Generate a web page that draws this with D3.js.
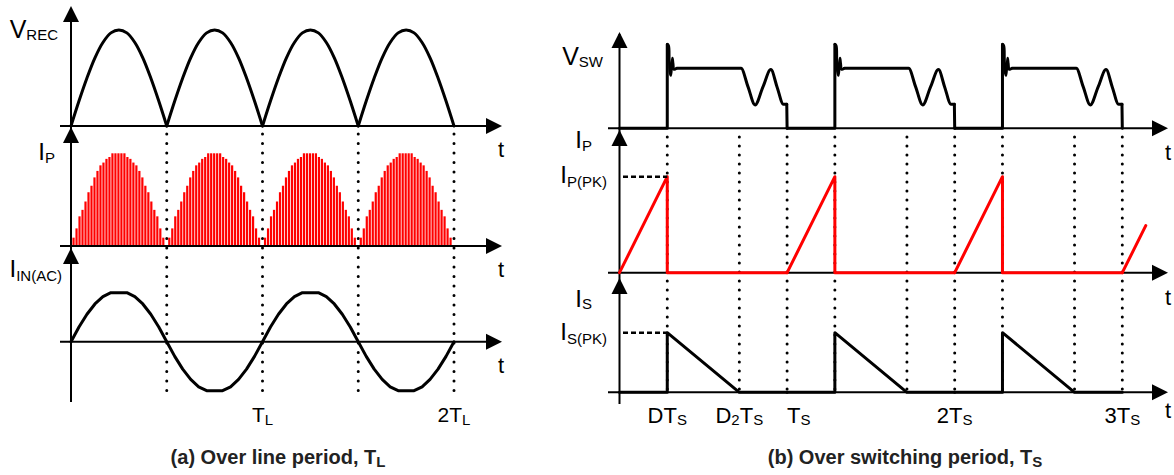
<!DOCTYPE html>
<html>
<head>
<meta charset="utf-8">
<script src="https://cdn.jsdelivr.net/npm/d3@7"></script>
<style>
  body { margin: 0; background: #fff; }
  svg { display: block; font-family: "Liberation Sans", Arial, sans-serif; }
</style>
</head>
<body>
<svg id="chart" width="1174" height="475"></svg>
<script>
// ---------- data: (a) over line period, t in units of T_L ----------
const lineZeros = [0, 0.5, 1, 1.5];                 // start of each rectified half cycle
const vrecArch = [0, 0.26, 0.5, 0.71, 0.87, 0.97, 1, 0.97, 0.87, 0.71, 0.5, 0.26, 0];
const ipBars = [0.09, 0.19, 0.32, 0.39, 0.48, 0.58, 0.65, 0.74, 0.81, 0.87, 0.90, 0.94, 0.96,
                1, 1, 1, 1, 1,
                0.96, 0.94, 0.90, 0.87, 0.81, 0.74, 0.65, 0.58, 0.48, 0.39, 0.32, 0.19, 0.09];
const iinCycle = [0, 0.3, 0.56, 0.77, 0.92, 1, 1, 1, 0.92, 0.77, 0.56, 0.3,
                  0, -0.3, -0.56, -0.77, -0.92, -1, -1, -1, -0.92, -0.77, -0.56, -0.3, 0];
const lineCycles = [0, 1];
const lineMarks = [0.5, 1, 1.5, 2];                 // dotted guides
const lineTickTimes = [1, 2];
const lineTickLabels = [[["T", 0], ["L", 1]], [["2T", 0], ["L", 1]]];

// ---------- data: (b) over switching period, t in units of T_S ----------
const D = 0.285, D2 = 0.43;
const switchPeriods = [0, 1, 2];
const vswTime  = [0, 0.285, 0.285, 0.293, 0.297, 0.300, 0.306, 0.312, 0.316, 0.320, 0.326, 0.341,
                  0.725, 0.767, 0.809, 0.856, 0.903, 0.940, 0.978, 0.998, 1.0];
const vswLevel = [0, 0, 1.40, 1.38, 1.15, 0.95, 0.88, 1.05, 1.17, 1.08, 0.98, 1.0,
                  1.0, 0.69, 0.39, 0.69, 0.98, 0.69, 0.40, 0.40, 0];
const ipTime  = [0, 0.285, 0.285, 1];
const ipLevel = [0, 1, 0, 0];
const ipTailTime = [3, 3.14], ipTailLevel = [0, 0.49];
const isTime  = [0, 0.285, 0.285, 0.715, 1];
const isLevel = [0, 0, 1, 0, 0];
const switchMarks = [0.285, 0.715, 1, 1.285, 1.715, 2, 2.285, 2.715, 3];
const switchTickTimes = [0.285, 0.715, 1, 2, 3];
const switchTickLabels = [
  [["DT", 0], ["S", 1]],
  [["D", 0], ["2", 1], ["T", 0], ["S", 1]],
  [["T", 0], ["S", 1]],
  [["2T", 0], ["S", 1]],
  [["3T", 0], ["S", 1]]
];

// ---------- scales ----------
const svg = d3.select("#chart");
const RED = "#ff0000";

const xL = d3.scaleLinear().domain([0, 2]).range([71, 454]);
const yVrec = d3.scaleLinear().domain([0, 1]).range([126, 30]);
const yIpL = d3.scaleLinear().domain([0, 1]).range([246, 153.3]);
const yIin = d3.scaleLinear().domain([-1, 1]).range([390.7, 292.7]);

const xR = d3.scaleLinear().domain([0, 3]).range([619.5, 1122.3]);
const yVsw = d3.scaleLinear().domain([0, 1]).range([128.3, 68.3]);
const yIpR = d3.scaleLinear().domain([0, 1]).range([272.7, 176.7]);
const yIs = d3.scaleLinear().domain([0, 1]).range([392.3, 332.7]);

// ---------- helpers ----------
function arrow(x, y, dir) {
  const len = 16, hw = 8;
  const p = dir === "up"
    ? [[x, y], [x - hw, y + len], [x + hw, y + len]]
    : [[x, y], [x - len, y - hw], [x - len, y + hw]];
  svg.append("path").attr("d", "M" + p.join("L") + "Z").attr("fill", "#000");
}

function hline(x1, x2, y, w) {
  svg.append("line").attr("x1", x1).attr("x2", x2).attr("y1", y).attr("y2", y)
    .attr("stroke", "#000").attr("stroke-width", w || 2);
}

function vline(x, y1, y2, w) {
  svg.append("line").attr("x1", x).attr("x2", x).attr("y1", y1).attr("y2", y2)
    .attr("stroke", "#000").attr("stroke-width", w || 2);
}

function dotted(x, y1, y2, gap) {
  svg.append("line").attr("x1", x).attr("x2", x).attr("y1", y1).attr("y2", y2)
    .attr("stroke", "#000").attr("stroke-width", 3)
    .attr("stroke-linecap", "round").attr("stroke-dasharray", "0 " + gap);
}

// parts: [[text, isSub], ...]
function rich(x, y, parts, o) {
  const t = svg.append("text").attr("x", x).attr("y", y)
    .attr("text-anchor", o.anchor || "start")
    .attr("font-weight", o.weight || "normal")
    .attr("fill", o.fill || "#000");
  let off = 0;
  parts.forEach(([s, sub]) => {
    const want = sub ? o.subDy : 0;
    t.append("tspan").attr("font-size", sub ? o.sub : o.size)
      .attr("dy", want - off).text(s);
    off = want;
  });
  return t;
}

function wave(pts, sx, sy, curve, color, w) {
  const line = d3.line().x(d => sx(d[0])).y(d => sy(d[1])).curve(curve || d3.curveLinear);
  svg.append("path").attr("d", line(pts)).attr("fill", "none")
    .attr("stroke", color || "#000").attr("stroke-width", w || 3)
    .attr("stroke-linejoin", "round").attr("stroke-linecap", "round");
}

// ================= (a) over line period =================
lineMarks.forEach(t => dotted(xL(t), 134, 395, 9.5));

// I_P bars
lineZeros.forEach(z => {
  svg.append("g").selectAll("rect").data(ipBars).join("rect")
    .attr("x", (v, j) => xL(z + 0.5 * (j + 0.85) / 32) - 1.1)
    .attr("width", 2.2)
    .attr("y", v => yIpL(v))
    .attr("height", v => yIpL(0) - yIpL(v))
    .attr("fill", RED);
});

// axes
vline(71, 8, 402);
[yVrec(0), yIpL(0), yIin(0)].forEach(y => { hline(60, 490, y); arrow(502, y, "right"); });
[6, 127, 248].forEach(y => arrow(71, y, "up"));

// V_REC arches
lineZeros.forEach(z => {
  const pts = vrecArch.map((v, i) => [z + 0.5 * i / (vrecArch.length - 1), v]);
  wave(pts, xL, yVrec, d3.curveCatmullRom);
});

// I_IN(AC)
const iinPts = [];
lineCycles.forEach(c => iinCycle.forEach((v, i) => {
  if (c > 0 && i === 0) return;
  iinPts.push([c + i / (iinCycle.length - 1), v]);
}));
wave(iinPts, xL, yIin, d3.curveLinear, "#000", 3);

// labels
rich(58, 38, [["V", 0], ["REC", 1]], { size: 25, sub: 15, subDy: 2, anchor: "end" });
rich(55, 160, [["I", 0], ["P", 1]], { size: 24, sub: 15, subDy: 3, anchor: "end" });
rich(62, 277, [["I", 0], ["IN(AC)", 1]], { size: 24, sub: 15, subDy: 4, anchor: "end" });
[157, 277, 373].forEach(y => svg.append("text").attr("x", 498).attr("y", y)
  .attr("font-size", 22).text("t"));
lineTickTimes.forEach((t, i) =>
  rich(xL(t), 422, lineTickLabels[i], { size: 21, sub: 15, subDy: 3, anchor: "middle" }));
rich(278, 464, [["(a) Over line period, T", 0], ["L", 1]],
  { size: 20, sub: 15, subDy: 3, anchor: "middle", weight: "bold", fill: "#222" });

// ================= (b) over switching period =================
switchMarks.forEach(t => dotted(xR(t), 137, 390, 9));

// axes
vline(619.5, 34, 404);
[yVsw(0), yIpR(0), yIs(0)].forEach(y => { hline(608, 1156, y); arrow(1168, y, "right"); });
[32, 130, 278].forEach(y => arrow(619.5, y, "up"));

// V_SW
switchPeriods.forEach(k => {
  const pts = vswTime.map((t, i) => [k + t, vswLevel[i]]);
  wave(pts.slice(0, 3), xR, yVsw, d3.curveLinear);
  wave(pts.slice(2, 12), xR, yVsw, d3.curveCatmullRom, "#000", 2.6);
  wave(pts.slice(11, 20), xR, yVsw, d3.curveMonotoneX);
  wave(pts.slice(19, 21), xR, yVsw, d3.curveLinear);
});

// I_P (primary current)
switchPeriods.forEach(k => {
  wave(ipTime.map((t, i) => [k + t, ipLevel[i]]), xR, yIpR, d3.curveLinear, RED, 3);
});
wave(ipTailTime.map((t, i) => [t, ipTailLevel[i]]), xR, yIpR, d3.curveLinear, RED, 3);

// I_S (secondary current)
switchPeriods.forEach(k => {
  wave(isTime.map((t, i) => [k + t, isLevel[i]]), xR, yIs, d3.curveLinear, "#000", 3);
});

// peak dashes
[yIpR(1), yIs(1)].forEach(y =>
  svg.append("line").attr("x1", 623).attr("x2", xR(D)).attr("y1", y).attr("y2", y)
    .attr("stroke", "#000").attr("stroke-width", 2.4).attr("stroke-dasharray", "5 3"));

// labels
rich(603, 65, [["V", 0], ["SW", 1]], { size: 25, sub: 15, subDy: 2, anchor: "end" });
rich(592, 148, [["I", 0], ["P", 1]], { size: 24, sub: 15, subDy: 3, anchor: "end" });
rich(607, 183, [["I", 0], ["P(PK)", 1]], { size: 24, sub: 15, subDy: 4, anchor: "end" });
rich(592, 307, [["I", 0], ["S", 1]], { size: 24, sub: 15, subDy: 2, anchor: "end" });
rich(607, 340, [["I", 0], ["S(PK)", 1]], { size: 24, sub: 15, subDy: 4, anchor: "end" });
[160, 305, 418].forEach(y => svg.append("text").attr("x", 1165).attr("y", y)
  .attr("font-size", 22).text("t"));
switchTickTimes.forEach((t, i) => {
  const startAligned = i === 2;   // T_S sits right of its guide to clear D2TS
  rich(xR(t), 423, switchTickLabels[i],
    { size: 22, sub: 15, subDy: 2, anchor: startAligned ? "start" : "middle" });
});
rich(905, 464, [["(b) Over switching period, T", 0], ["S", 1]],
  { size: 20, sub: 15, subDy: 3, anchor: "middle", weight: "bold", fill: "#222" });
</script>
</body>
</html>
